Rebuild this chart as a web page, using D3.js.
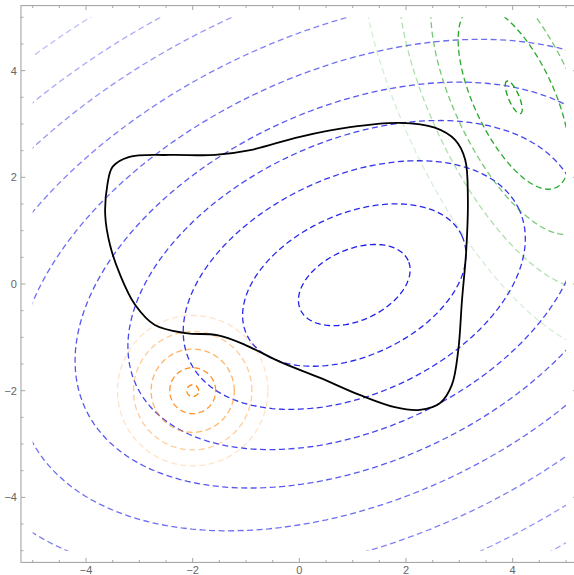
<!DOCTYPE html>
<html>
<head>
<meta charset="utf-8">
<script src="https://cdn.jsdelivr.net/npm/d3@7"></script>
<style>
  body { margin: 0; background: #fff; }
  text { font-family: "Liberation Sans", Arial, sans-serif; }
</style>
</head>
<body>
<div id="chart"></div>
<script>
// tick values
var majorTicks = [-4, -2, 0, 2, 4];
var minorTicks = d3.range(-5, 5.01, 0.5);

// blue family: tilted ellipses round one centre
var blueCenter = [1.03, -0.02];
var blueAngle = 24.5;            // degrees, major axis
var blueRatio = 0.6;             // minor / major
var blueSizes = [1.11, 2.22, 3.4, 4.5, 5.55, 6.72, 7.95, 9.2, 10.2, 11.3];
var blueAlpha = [1, 0.95, 0.9, 0.82, 0.74, 0.65, 0.56, 0.47, 0.38, 0.28];

// orange family: circles round (-2,-2)
var orangeCenter = [-2, -2];
var orangeRadii = [0.11, 0.43, 0.78, 1.11, 1.41];
var orangeAlpha = [1, 0.85, 0.6, 0.4, 0.22];

// green family: tilted ellipses round (4, 3.5)
var greenCenter = [4.02, 3.5];
var greenAngle = [113, 115, 115, 115, 115];   // degrees, major axis
var greenMajor = [0.33, 1.87, 2.79, 3.9, 5.2];
var greenMinor = [0.1, 0.75, 1.12, 1.57, 2.1];
var greenAlpha = [1, 0.9, 0.58, 0.34, 0.18];

// black closed curve
var blackX = [-3.64, -3.6, -3.5, -3.2, -2.43, -1.58, -0.92, 0.01, 0.95, 1.89, 2.54, 2.92, 3.11, 3.16, 3.13, 3.05, 2.98, 2.86, 2.64, 2.26, 1.79, 1.13, 0.39, -0.36, -1.02, -1.54, -2.14, -2.71, -3.08, -3.36, -3.55];
var blackY = [1.29, 1.86, 2.2, 2.38, 2.42, 2.42, 2.51, 2.76, 2.94, 3.02, 2.93, 2.70, 2.33, 1.58, 0.64, -0.30, -1.24, -1.89, -2.23, -2.36, -2.31, -2.08, -1.76, -1.46, -1.14, -0.96, -0.92, -0.77, -0.39, 0.17, 0.73];

var width = 574, height = 575;

var x = d3.scaleLinear().domain([-5, 5]).range([32.7, 566]);
var y = d3.scaleLinear().domain([-5, 5]).range([550.7, 17.3]);
var pad = 0.22;

var svg = d3.select("#chart").append("svg")
  .attr("width", width)
  .attr("height", height);

svg.append("clipPath").attr("id", "plotclip")
  .append("rect")
  .attr("x", x(-5)).attr("y", y(5))
  .attr("width", x(5) - x(-5)).attr("height", y(-5) - y(5));

var plot = svg.append("g").attr("clip-path", "url(#plotclip)");

var line = d3.line()
  .x(function(d) { return x(d[0]); })
  .y(function(d) { return y(d[1]); });

// points of an ellipse in data units
function ellipsePts(c, a, b, angDeg) {
  var t = angDeg * Math.PI / 180;
  return d3.range(0, 361, 2).map(function(k) {
    var s = k * Math.PI / 180;
    var u = a * Math.cos(s), v = b * Math.sin(s);
    return [c[0] + u * Math.cos(t) - v * Math.sin(t), c[1] + u * Math.sin(t) + v * Math.cos(t)];
  });
}

function drawFamily(majors, minors, alphas, center, angs, color) {
  majors.forEach(function(a, i) {
    plot.append("path")
      .attr("d", line(ellipsePts(center, a, minors[i], angs[i])))
      .attr("fill", "none")
      .attr("stroke", color)
      .attr("stroke-opacity", alphas[i])
      .attr("stroke-width", 1.3)
      .attr("stroke-dasharray", "6,3.5");
  });
}

drawFamily(blueSizes, blueSizes.map(function(s) { return s * blueRatio; }), blueAlpha, blueCenter,
  blueSizes.map(function() { return blueAngle; }), "rgb(30,30,235)");
drawFamily(orangeRadii, orangeRadii, orangeAlpha, orangeCenter,
  orangeRadii.map(function() { return 0; }), "rgb(255,128,0)");
drawFamily(greenMajor, greenMinor, greenAlpha, greenCenter, greenAngle, "rgb(20,160,20)");

// black curve
plot.append("path")
  .attr("d", d3.line()
    .x(function(d) { return x(d[0]); })
    .y(function(d) { return y(d[1]); })
    .curve(d3.curveCatmullRomClosed)(blackX.map(function(v, i) { return [v, blackY[i]]; })))
  .attr("fill", "none")
  .attr("stroke", "#000")
  .attr("stroke-width", 1.8);

// frame
var fx0 = x(-5 - pad), fx1 = x(5 + pad), fy0 = y(5 + pad), fy1 = y(-5 - pad);
var frameColor = "#a6a6a6";
svg.append("rect")
  .attr("x", fx0).attr("y", fy0)
  .attr("width", fx1 - fx0).attr("height", fy1 - fy0)
  .attr("fill", "none").attr("stroke", frameColor).attr("stroke-width", 1.1);

function tickLen(v) { return majorTicks.indexOf(v) >= 0 ? 4.5 : 2.5; }

var ticks = svg.append("g").attr("stroke", frameColor).attr("stroke-width", 1);
minorTicks.forEach(function(v) {
  var L = tickLen(v);
  ticks.append("line").attr("x1", x(v)).attr("x2", x(v)).attr("y1", fy1).attr("y2", fy1 - L);
  ticks.append("line").attr("x1", x(v)).attr("x2", x(v)).attr("y1", fy0).attr("y2", fy0 + L);
  ticks.append("line").attr("y1", y(v)).attr("y2", y(v)).attr("x1", fx0).attr("x2", fx0 + L);
  ticks.append("line").attr("y1", y(v)).attr("y2", y(v)).attr("x1", fx1).attr("x2", fx1 - L);
});

function fmt(v) { return v < 0 ? "\u2212" + Math.abs(v) : String(v); }

svg.append("g").selectAll("text").data(majorTicks).enter().append("text")
  .attr("x", function(d) { return x(d); })
  .attr("y", fy1 + 12)
  .attr("text-anchor", "middle")
  .attr("font-size", 11)
  .attr("fill", "#666")
  .text(fmt);

svg.append("g").selectAll("text").data(majorTicks).enter().append("text")
  .attr("x", fx0 - 4)
  .attr("y", function(d) { return y(d) + 4; })
  .attr("text-anchor", "end")
  .attr("font-size", 11)
  .attr("fill", "#666")
  .text(fmt);
</script>
</body>
</html>
